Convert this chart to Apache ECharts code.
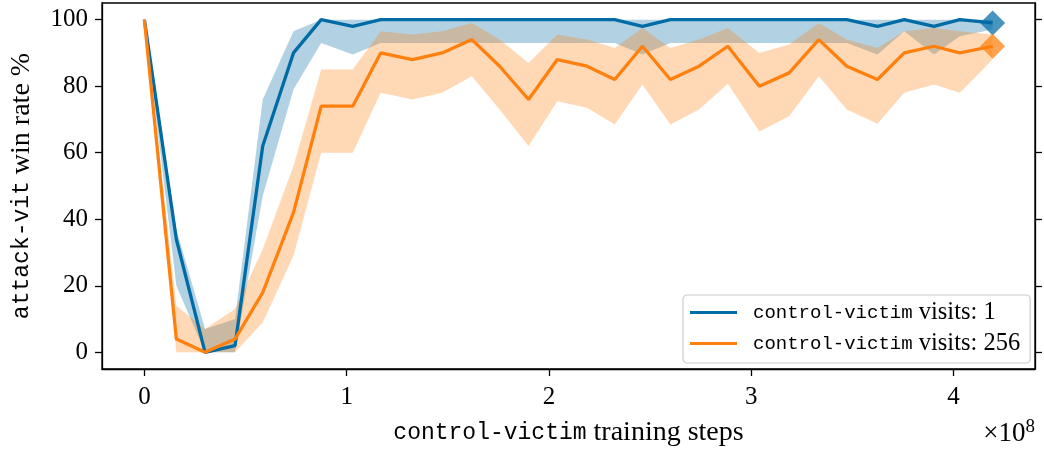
<!DOCTYPE html>
<html><head><meta charset="utf-8">
<script src="https://cdn.jsdelivr.net/npm/echarts@6/dist/echarts.min.js"></script>
<style>html,body{margin:0;padding:0;background:#fff}#c{width:1044px;height:452px}</style>
</head><body><div id="c"></div>
<script>
// training steps, in units of 1e8
const steps = [0, 0.158, 0.30, 0.448, 0.585, 0.737, 0.874, 1.03, 1.168, 1.325, 1.472, 1.619, 1.756, 1.899, 2.041,
  2.188, 2.325, 2.462, 2.60, 2.742, 2.884, 3.04, 3.187, 3.334, 3.472, 3.624, 3.756, 3.903, 4.031, 4.193];
const visits1Mean = [100, 34, 0, 2, 62, 90, 100, 98, 100, 100, 100, 100, 100, 100, 100, 100, 100, 98, 100, 100,
  100, 100, 100, 100, 100, 98, 100, 98, 100, 99];
const visits1Low = [100, 20, 0, 0, 47, 79, 93, 89.5, 93, 93, 93, 93, 93, 93, 93, 93, 93, 89.5, 93, 93,
  93, 93, 93, 93, 93, 89.5, 96.5, 89.5, 95, 97];
const visits1High = [100, 37, 7, 10, 76, 96.5, 100, 100, 100, 100, 100, 100, 100, 100, 100, 100, 100, 100, 100, 100,
  100, 100, 100, 100, 100, 100, 100, 100, 100, 100];
const visits256Mean = [100, 4, 0, 4, 18, 42, 74, 74, 90, 88, 90, 94, 86, 76, 88, 86, 82, 92, 82, 86,
  92, 80, 84, 94, 86, 82, 90, 92, 90, 92];
const visits256Low = [100, 0, 0, 0, 9, 29, 60, 60, 78, 76, 78, 83, 73, 62, 75.5, 73.5, 68.5, 80.5, 68.5, 73,
  80.7, 66.4, 71, 83, 73, 68.7, 78, 80.5, 78, 88];
const visits256High = [100, 14, 7, 13, 31, 56, 85, 85, 96.5, 95.5, 96.5, 99, 94, 87, 95.5, 94, 91.5, 97.5, 91.5, 94,
  97.5, 90, 92.5, 99, 94, 91.5, 96.5, 97.5, 96.5, 95.5];
const xTicks = [0, 1, 2, 3, 4];
const yTicks = [0, 20, 40, 60, 80, 100];
const seriesNames = ['control-victim visits: 1', 'control-victim visits: 256'];
const xLabel = ['control-victim', ' training steps'];
const yLabel = ['attack-vit', ' win rate %'];
const xScaleLabel = ['×10', '8'];

const BLUE = '#006BA4', ORANGE = '#FF800E';
const SERIF = 'Liberation Serif', MONO = 'Liberation Mono';
const pairs = ys => steps.map((x, i) => [x, ys[i]]);

function band(name, low, high, rgba) {
  return {
    type: 'custom', name, silent: true, z: 1,
    data: [[steps[0], low[0]]],
    encode: {x: 0, y: 1},
    renderItem: (params, api) => {
      const pts = [];
      for (let i = 0; i < steps.length; i++) pts.push(api.coord([steps[i], high[i]]));
      for (let i = steps.length - 1; i >= 0; i--) pts.push(api.coord([steps[i], low[i]]));
      return {type: 'polygon', shape: {points: pts}, style: {fill: rgba, stroke: null}};
    }
  };
}
function line(name, ys, color) {
  return {type: 'line', name, data: pairs(ys), symbol: 'none', z: 3,
    lineStyle: {color, width: 3.3}, itemStyle: {color}};
}
function endMarker(name, ys, color) {
  const n = steps.length - 1;
  return {type: 'scatter', name, data: [[steps[n], ys[n]]], symbol: 'diamond', symbolSize: 25, z: 4,
    itemStyle: {color, opacity: 0.72}, silent: true};
}
const richAxis = {
  m: {fontFamily: MONO, fontSize: 23, color: '#000'},
  s: {fontFamily: SERIF, fontSize: 28, color: '#000'}
};

const chart = echarts.init(document.getElementById('c'), null, {renderer: 'canvas'});
chart.setOption({
  animation: false,
  backgroundColor: '#fff',
  grid: {left: 101, right: 9, top: 3, bottom: 82, show: true, borderColor: '#000', borderWidth: 1.3, backgroundColor: 'transparent'},
  xAxis: {
    type: 'value', min: -0.2095, max: 4.4025,
    splitLine: {show: false},
    axisLine: {onZero: false, lineStyle: {color: '#000', width: 1.3}},
    axisTick: {customValues: xTicks, length: 7, lineStyle: {color: '#000', width: 1.3}},
    axisLabel: {customValues: xTicks, margin: 16, fontFamily: SERIF, fontSize: 25, color: '#000'},
    name: '{m|' + xLabel[0] + '}{s|' + xLabel[1] + '}',
    nameLocation: 'middle', nameGap: 50,
    nameTextStyle: {rich: richAxis}
  },
  yAxis: [{
    type: 'value', min: -5, max: 105,
    splitLine: {show: false},
    axisLine: {onZero: false, lineStyle: {color: '#000', width: 1.3}},
    axisTick: {customValues: yTicks, length: 7, lineStyle: {color: '#000', width: 1.3}},
    axisLabel: {customValues: yTicks, margin: 14, fontFamily: SERIF, fontSize: 25, color: '#000'},
    name: '{m|' + yLabel[0] + '}{s|' + yLabel[1] + '}',
    nameLocation: 'middle', nameGap: 66, nameRotate: 90,
    nameTextStyle: {rich: richAxis}
  }, {
    type: 'value', min: -5, max: 105, position: 'right',
    splitLine: {show: false},
    axisLine: {show: true, onZero: false, lineStyle: {color: '#000', width: 1.3}},
    axisTick: {show: true, customValues: yTicks, length: 7, lineStyle: {color: '#000', width: 1.3}},
    axisLabel: {show: false}
  }],
  legend: {
    data: seriesNames,
    left: 683, top: 295,
    orient: 'vertical',
    icon: 'rect', itemWidth: 47, itemHeight: 3, itemGap: 6,
    backgroundColor: 'rgba(255,255,255,0.8)', borderColor: '#cccccc', borderWidth: 1.2, borderRadius: 4,
    padding: [5, 10, 7, 7],
    formatter: n => { const i = n.indexOf(' '); return '{m|' + n.slice(0, i) + '}{s|' + n.slice(i) + '}'; },
    textStyle: {
      rich: {
        m: {fontFamily: MONO, fontSize: 19, color: '#000', lineHeight: 24, padding: [0, 0, 0, 11]},
        s: {fontFamily: SERIF, fontSize: 24.5, color: '#000', lineHeight: 24}
      }
    }
  },
  graphic: [{
    type: 'text', right: 9, top: 418,
    style: {
      text: '{a|' + xScaleLabel[0] + '}{b|' + xScaleLabel[1] + '}',
      rich: {
        a: {fontFamily: SERIF, fontSize: 27, fill: '#000', lineHeight: 32},
        b: {fontFamily: SERIF, fontSize: 19, fill: '#000', verticalAlign: 'top', lineHeight: 32}
      }
    }
  }],
  series: [
    band('band1', visits1Low, visits1High, 'rgba(0,107,164,0.3)'),
    band('band256', visits256Low, visits256High, 'rgba(255,128,14,0.3)'),
    line(seriesNames[0], visits1Mean, BLUE),
    line(seriesNames[1], visits256Mean, ORANGE),
    endMarker('end1', visits1Mean, BLUE),
    endMarker('end256', visits256Mean, ORANGE)
  ]
});
</script>
</body></html>
